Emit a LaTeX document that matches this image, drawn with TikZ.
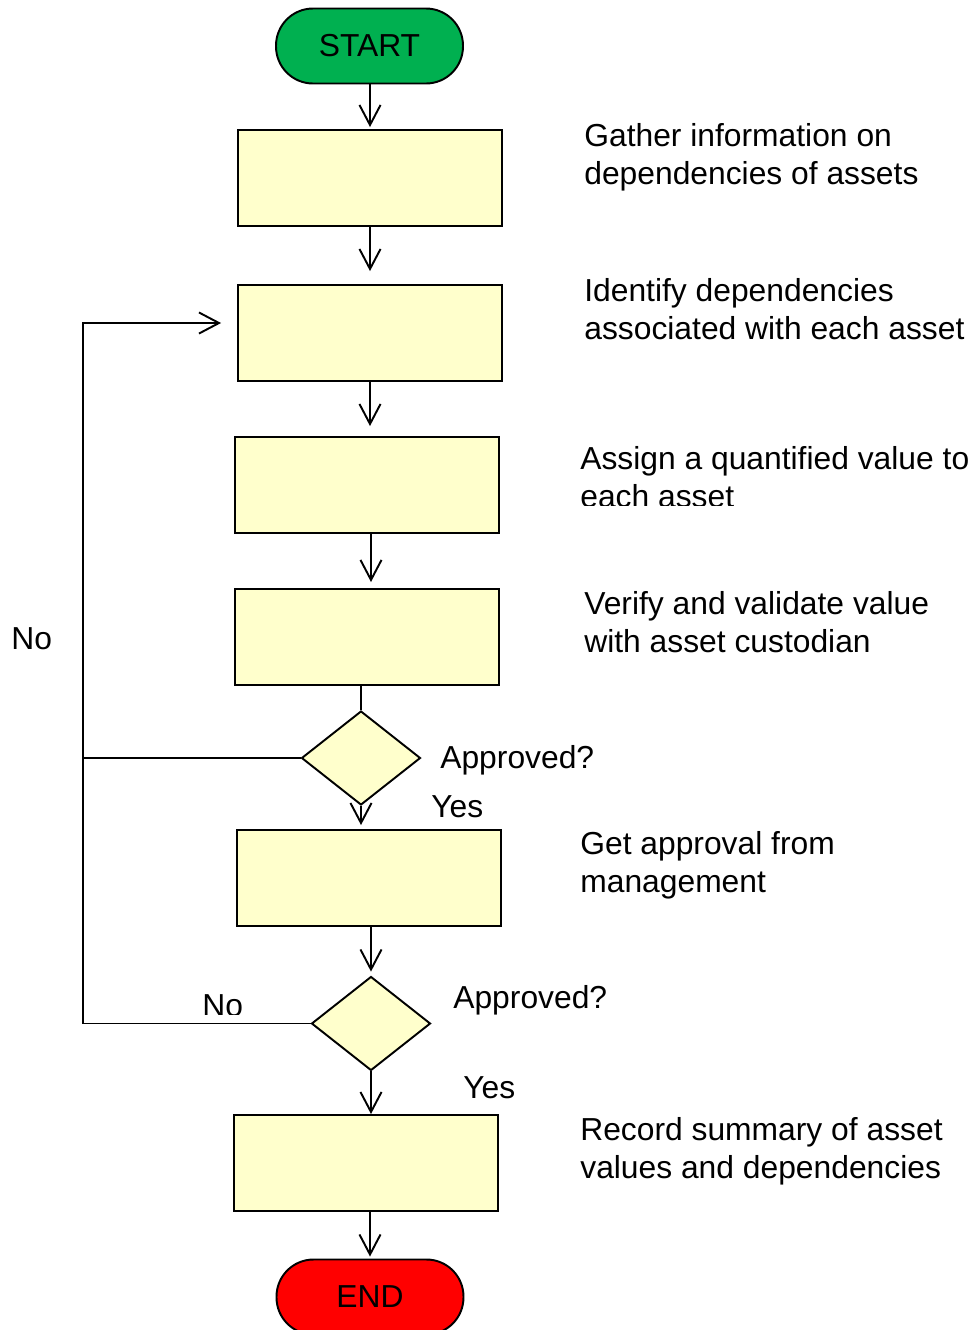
\documentclass[tikz,border=0pt]{standalone}
\usepackage{fontspec}
\setmainfont{Liberation Sans}
\usetikzlibrary{shapes.geometric,arrows.meta}
\definecolor{boxfill}{HTML}{FFFFCC}
\definecolor{startgreen}{HTML}{00B050}
\definecolor{endred}{HTML}{FF0000}
\begin{document}
\begin{tikzpicture}[x=0.02cm,y=-0.02cm,
  every node/.style={font=\fontsize{18.1pt}{21.2pt}\selectfont},
  terminal/.style={draw=black,line width=1.1pt,rectangle,rounded corners=0.74cm,
    minimum width=3.74cm,minimum height=1.5cm,inner sep=0pt},
  stepbox/.style={draw=black,line width=1.1pt,fill=boxfill,rectangle,
    minimum width=5.28cm,minimum height=1.92cm,inner sep=0pt},
  decision/.style={draw=black,line width=1.1pt,fill=boxfill,diamond,
    aspect=1.27,minimum width=2.38cm,minimum height=1.88cm,inner sep=0pt},
  note/.style={anchor=base west,inner sep=0pt,align=left},
  link/.style={line width=1.1pt},
  arr/.style={line width=1.1pt,-{Straight Barb[length=11.4pt,width=12pt,line width=1.1pt]}}
]
\useasboundingbox (0,0) rectangle (974,1330);
\clip (0,0) rectangle (974,1330);

% flow nodes
\node[terminal,fill=startgreen] (start) at (369.5,46) {START};
\node[stepbox] (b1) at (370,178) {};
\node[stepbox] (b2) at (370,333) {};
\node[stepbox] (b3) at (367,485) {};
\node[stepbox] (b4) at (367,637) {};
\node[decision] (d1) at (361,758) {};
\node[stepbox] (b5) at (369,878) {};
\node[decision] (d2) at (371,1023.5) {};
\node[stepbox] (b6) at (366,1163) {};
\node[terminal,fill=endred] (end) at (370,1297) {END};

% side descriptions (anchored on the baseline of the last line)
\node[note] (t1) at (584,184) {Gather information on\\dependencies of assets};
\node[note] (t2) at (584,339) {Identify dependencies\\associated with each asset};
\begin{scope}
  \clip (560,430) rectangle (974,505);
  \node[note] (t3) at (580,507) {Assign a quantified value to\\each asset};
\end{scope}
\node[note] (t4) at (584,652) {Verify and validate value\\with asset custodian};
\node[note] (t5) at (580,892) {Get approval from\\management};
\node[note] (t6) at (580,1178) {Record summary of asset\\values and dependencies};

% decision labels
\node[note] (q1) at (440,768) {Approved?};
\node[note] (y1) at (431,817) {Yes};
\node[note] (q2) at (453,1008) {Approved?};
\node[note] (y2) at (463,1098) {Yes};
\node[note] (n1) at (11,649) {No};
\begin{scope}
  \clip (190,980) rectangle (260,1014);
  \node[note] (n2) at (202,1016) {No};
\end{scope}

% connector end points along the main column
\coordinate (s3) at (371,533);
\coordinate (e3) at (371,589);

% main flow
\draw[arr,shorten >=0.04cm] (start.south -| b1) -- (b1.north);
\draw[arr,shorten >=0.26cm] (b1.south) -- (b2.north);
\draw[arr,shorten >=0.2cm] (b2.south) -- (b2.south |- b3.north);
\draw[arr,shorten >=0.14cm] (s3) -- (e3);
\draw[link] (d1.north |- b4.south) -- (d1.north);
\draw[arr,shorten >=0.08cm] (d1.south) -- (d1.south |- b5.north);
\draw[arr,shorten >=0.08cm] (b5.south -| d2.north) -- (d2.north);
\draw[arr] (d2.south) -- (d2.south |- b6.north);
\draw[arr,shorten >=0.04cm] (b6.south -| end.north) -- (end.north);

% rejection loop back to the dependency step
\coordinate (loopTop) at (83,323);
\draw[link] (d1.west) -- (d1.west -| loopTop);
\draw[arr,shorten >=0.32cm] (d2.west) -- (d2.west -| loopTop) -- (loopTop) -- (loopTop -| b2.west);
\end{tikzpicture}
\end{document}
